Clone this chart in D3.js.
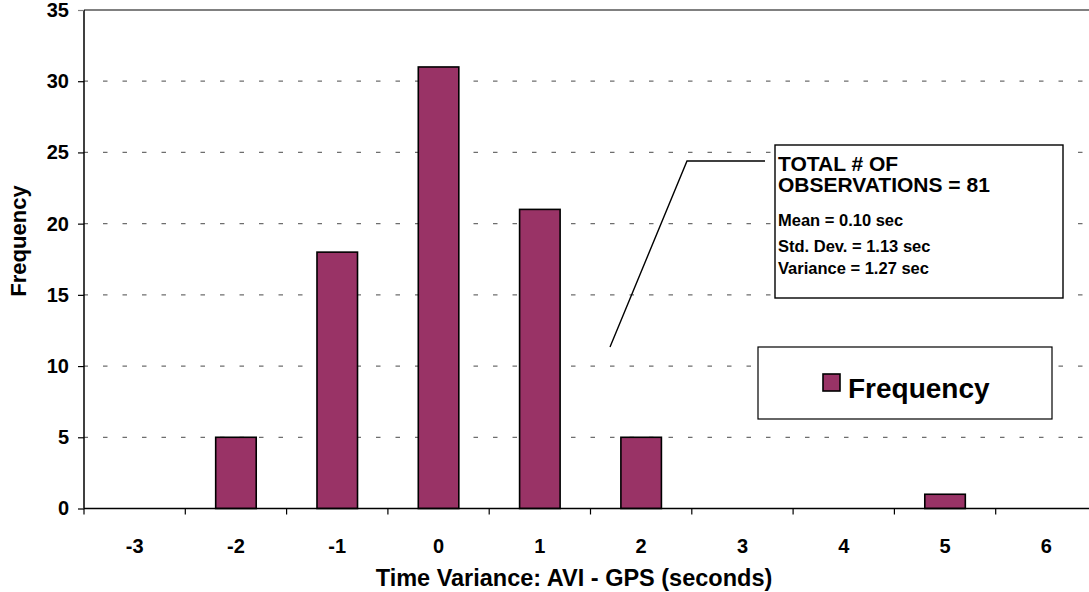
<!DOCTYPE html>
<html>
<head>
<meta charset="utf-8">
<script src="https://cdn.jsdelivr.net/npm/d3@7/dist/d3.min.js"></script>
<style>
  html, body { margin: 0; padding: 0; background: #fff; }
  svg { display: block; font-family: Arial, "Liberation Sans", sans-serif; font-weight: bold; }
</style>
</head>
<body>
<svg id="chart" width="1089" height="592"></svg>
<script>
// Histogram of AVI - GPS time differences
const categories = ["-3", "-2", "-1", "0", "1", "2", "3", "4", "5", "6"];
const frequency = [0, 5, 18, 31, 21, 5, 0, 0, 1, 0];
const yTicks = [0, 5, 10, 15, 20, 25, 30, 35];
const seriesName = "Frequency";
const statsLines = [
  "TOTAL # OF",
  "OBSERVATIONS = 81",
  "Mean = 0.10 sec",
  "Std. Dev. = 1.13 sec",
  "Variance = 1.27 sec"
];

const svg = d3.select("#chart");
const margin = { left: 84, top: 10 };
const plotW = 1013, plotH = 498.5;
const barColor = "#993366";

const x = d3.scaleBand().domain(categories).range([0, plotW]);
const y = d3.scaleLinear().domain([0, 35]).range([plotH, 0]);

const g = svg.append("g").attr("transform", `translate(${margin.left},${margin.top})`);

// gridlines: solid at the top, dashed elsewhere
g.selectAll("line.grid").data(yTicks.filter(d => d > 0)).enter().append("line")
  .attr("x1", 0).attr("x2", plotW)
  .attr("y1", d => y(d)).attr("y2", d => y(d))
  .attr("stroke", d => d === 35 ? "#808080" : "#6e6e6e")
  .attr("stroke-width", d => d === 35 ? 2 : 1.2)
  .attr("stroke-dasharray", d => d === 35 ? null : "4.5,15")
  .attr("stroke-dashoffset", -19);

// bars
const bw = x.bandwidth() * 0.4;
g.selectAll("rect.bar").data(frequency.map((v, i) => ({ c: categories[i], v })).filter(d => d.v > 0))
  .enter().append("rect")
  .attr("x", d => x(d.c) + (x.bandwidth() - bw) / 2)
  .attr("y", d => y(d.v))
  .attr("width", bw)
  .attr("height", d => y(0) - y(d.v))
  .attr("fill", barColor)
  .attr("stroke", "#000")
  .attr("stroke-width", 1.6);

// y axis
const yAxis = d3.axisLeft(y).tickValues(yTicks).tickSize(6).tickPadding(9);
const ya = g.append("g").call(yAxis);
ya.select(".domain").attr("stroke", "#000").attr("stroke-width", 1.5).attr("d", `M0,${y(35)}V${y(0)}`);
ya.selectAll(".tick line").attr("stroke", d => d === 35 ? "#808080" : "#000").attr("stroke-width", 1.2);
ya.selectAll(".tick text").attr("font-size", 20).attr("font-weight", "bold").attr("fill", "#000")
  .attr("font-family", "Arial, 'Liberation Sans', sans-serif");

// x axis with ticks between categories
const xa = g.append("g").attr("transform", `translate(0,${plotH})`);
xa.append("line").attr("x1", 0).attr("x2", plotW).attr("stroke", "#000").attr("stroke-width", 1.5);
xa.selectAll("line.tk").data(categories).enter().append("line")
  .attr("x1", d => x(d)).attr("x2", d => x(d)).attr("y1", 0).attr("y2", 6)
  .attr("stroke", "#000").attr("stroke-width", 1.2);
xa.selectAll("text").data(categories).enter().append("text")
  .attr("x", d => x(d) + x.bandwidth() / 2).attr("y", 44)
  .attr("text-anchor", "middle").attr("font-size", 20).text(d => d);

// axis titles
svg.append("text").attr("x", 574).attr("y", 586).attr("text-anchor", "middle")
  .attr("font-size", 23.5).text("Time Variance: AVI - GPS (seconds)");
svg.append("text").attr("transform", "translate(26,241) rotate(-90)").attr("text-anchor", "middle")
  .attr("font-size", 22).text("Frequency");

// statistics callout
svg.append("polyline").attr("points", "610,347 687,161 765,161")
  .attr("fill", "none").attr("stroke", "#000").attr("stroke-width", 1.4);
svg.append("rect").attr("x", 775).attr("y", 145).attr("width", 288).attr("height", 153)
  .attr("fill", "#fff").attr("stroke", "#000").attr("stroke-width", 1.4);
const statY = [170.5, 192, 225.5, 252, 274];
const statSize = [21, 21, 16.5, 16.5, 16.5];
svg.selectAll("text.stat").data(statsLines).enter().append("text")
  .attr("x", 778).attr("y", (d, i) => statY[i]).attr("font-size", (d, i) => statSize[i]).text(d => d);

// legend
svg.append("rect").attr("x", 758).attr("y", 347).attr("width", 294).attr("height", 72)
  .attr("fill", "#fff").attr("stroke", "#000").attr("stroke-width", 1.2);
svg.append("rect").attr("x", 823).attr("y", 374).attr("width", 17).attr("height", 17)
  .attr("fill", barColor).attr("stroke", "#000").attr("stroke-width", 1.6);
svg.append("text").attr("x", 848).attr("y", 398).attr("font-size", 28).text(seriesName);
</script>
</body>
</html>
